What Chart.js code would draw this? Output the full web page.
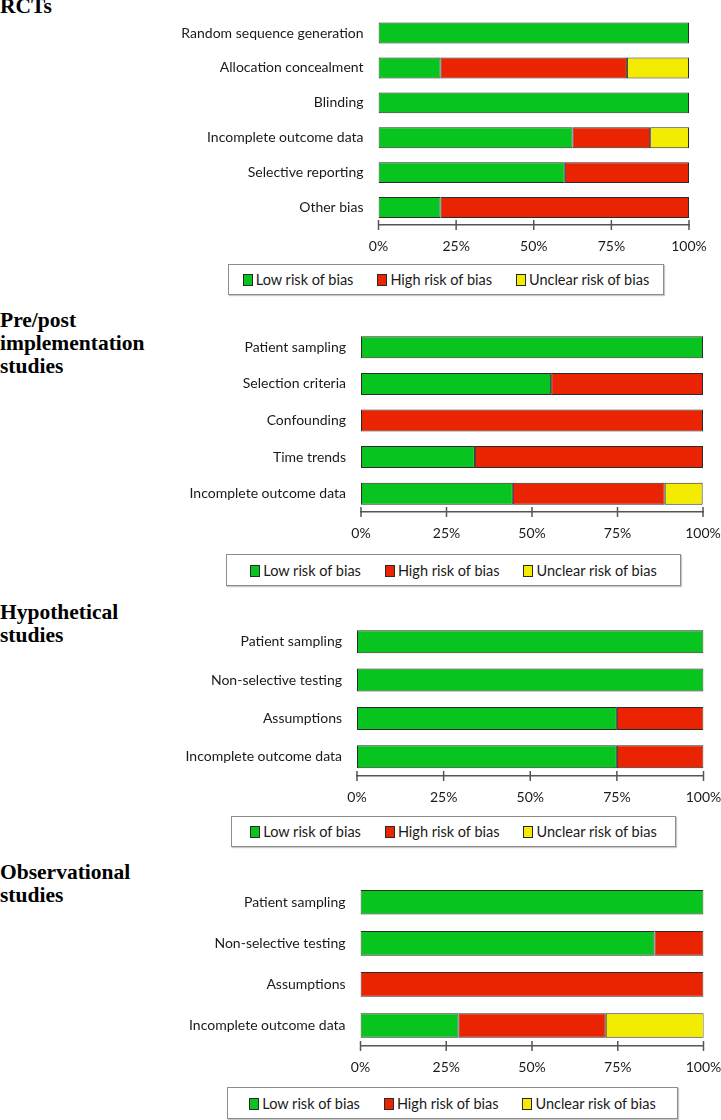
<!DOCTYPE html>
<html>
<head>
<meta charset="utf-8">
<script src="https://cdn.jsdelivr.net/npm/chart.js@4"></script>
<style>
  body { margin: 0; background: #fff; }
  #page { position: relative; width: 721px; height: 1120px; overflow: hidden; background: #fff; }
  .title { position: absolute; left: 0; font: bold 21.5px "Liberation Serif", serif; line-height: 23px; color: #000; }
  canvas { position: absolute; left: 0; }
  .legend { position: absolute; box-sizing: border-box; border: 1px solid #8c8c8c; box-shadow: 1px 1px 1px #c8c8c8;
            display: flex; align-items: center; justify-content: center; gap: 24px;
            font: 14.5px Lato, sans-serif; color: #1a1a1a; }
  .legend .sw { display: inline-block; width: 8px; height: 10px; border: 1px solid #2b2b2b; margin-right: 3px; vertical-align: -1px; }
</style>
</head>
<body>
<div id="page"></div>
<script>
// series + colours
const seriesNames = ['Low risk of bias', 'High risk of bias', 'Unclear risk of bias'];
const seriesColors = ['#08c41e', '#ea2400', '#f4ec00'];
const tickValues = [0, 25, 50, 75, 100];

// RCTs
const rctCategories = ['Random sequence generation', 'Allocation concealment', 'Blinding',
                       'Incomplete outcome data', 'Selective reporting', 'Other bias'];
const rctLow     = [100, 20, 100, 62.5, 60, 20];
const rctHigh    = [0, 60, 0, 25, 40, 80];
const rctUnclear = [0, 20, 0, 12.5, 0, 0];

// Pre/post implementation studies
const preCategories = ['Patient sampling', 'Selection criteria', 'Confounding', 'Time trends', 'Incomplete outcome data'];
const preLow     = [100, 55.6, 0, 33.3, 44.4];
const preHigh    = [0, 44.4, 100, 66.7, 44.4];
const preUnclear = [0, 0, 0, 0, 11.1];

// Hypothetical studies
const hypCategories = ['Patient sampling', 'Non-selective testing', 'Assumptions', 'Incomplete outcome data'];
const hypLow     = [100, 100, 75, 75];
const hypHigh    = [0, 0, 25, 25];
const hypUnclear = [0, 0, 0, 0];

// Observational studies
const obsCategories = ['Patient sampling', 'Non-selective testing', 'Assumptions', 'Incomplete outcome data'];
const obsLow     = [100, 85.7, 0, 28.6];
const obsHigh    = [0, 14.3, 100, 42.9];
const obsUnclear = [0, 0, 0, 28.6];

const AXIS_H = 36;
const W = 721;
const labelFont = { family: 'Lato, sans-serif', size: 14 };

// layout per panel (pixels)
const panels = [
  { title: ['RCTs'], titleTop: -5, cats: rctCategories, series: [rctLow, rctHigh, rctUnclear],
    top: 0, areaTop: 15.6, areaBottom: 224.7, left: 378.5, right: 689,
    legend: { left: 228, top: 264, width: 436, height: 31 } },
  { title: ['Pre/post', 'implementation', 'studies'], titleTop: 309, cats: preCategories, series: [preLow, preHigh, preUnclear],
    top: 300, areaTop: 329, areaBottom: 512, left: 361, right: 703,
    legend: { left: 226, top: 554, width: 455, height: 32 } },
  { title: ['Hypothetical', 'studies'], titleTop: 601, cats: hypCategories, series: [hypLow, hypHigh, hypUnclear],
    top: 600, areaTop: 622.5, areaBottom: 775.8, left: 357, right: 703.5,
    legend: { left: 231, top: 816, width: 445, height: 31 } },
  { title: ['Observational', 'studies'], titleTop: 861, cats: obsCategories, series: [obsLow, obsHigh, obsUnclear],
    top: 860, areaTop: 881.7, areaBottom: 1046.3, left: 360.5, right: 703.5,
    legend: { left: 227, top: 1087, width: 451, height: 32 } }
];

// tick marks crossing the axis line
const crossTicks = {
  id: 'crossTicks',
  afterDraw(chart) {
    const s = chart.scales.x;
    const ctx = chart.ctx;
    ctx.save();
    ctx.strokeStyle = '#555';
    ctx.lineWidth = 1.5;
    s.ticks.forEach(t => {
      const x = s.getPixelForValue(t.value);
      ctx.beginPath();
      ctx.moveTo(x, s.top - 5);
      ctx.lineTo(x, s.top + 5);
      ctx.stroke();
    });
    ctx.restore();
  }
};

const page = document.getElementById('page');

panels.forEach(p => {
  const t = document.createElement('div');
  t.className = 'title';
  t.style.top = p.titleTop + 'px';
  t.innerHTML = p.title.join('<br>');
  page.appendChild(t);

  const canvas = document.createElement('canvas');
  const h = Math.round(p.areaBottom - p.top + AXIS_H);
  canvas.width = W;
  canvas.height = h;
  canvas.style.top = p.top + 'px';
  page.appendChild(canvas);

  new Chart(canvas, {
    type: 'bar',
    data: {
      labels: p.cats,
      datasets: p.series.map((d, i) => ({
        label: seriesNames[i],
        data: d.map(v => v || null),
        backgroundColor: seriesColors[i],
        borderColor: '#2b2b2b',
        borderWidth: 1,
        borderSkipped: false,
        barPercentage: 0.6,
        categoryPercentage: 1
      }))
    },
    options: {
      indexAxis: 'y',
      responsive: false,
      animation: false,
      layout: { padding: { top: p.areaTop - p.top, right: W - p.right, left: 0, bottom: 0 } },
      plugins: { legend: { display: false }, tooltip: { enabled: false } },
      scales: {
        x: {
          stacked: true, min: 0, max: 100,
          afterBuildTicks: s => { s.ticks = tickValues.map(v => ({ value: v })); },
          ticks: { callback: v => v + '%', padding: 13, font: labelFont, color: '#1a1a1a', maxRotation: 0 },
          grid: { display: false, drawTicks: false },
          border: { display: true, color: '#555', width: 1.5 },
          afterFit: s => { s.height = AXIS_H; s.paddingLeft = 0; s.paddingRight = 0; }
        },
        y: {
          stacked: true,
          ticks: { padding: 15, font: labelFont, color: '#1a1a1a', autoSkip: false },
          grid: { display: false, drawTicks: false },
          border: { display: false },
          afterFit: s => { s.width = p.left; s.paddingTop = 0; s.paddingBottom = 0; }
        }
      }
    },
    plugins: [crossTicks]
  });

  const lg = document.createElement('div');
  lg.className = 'legend';
  Object.assign(lg.style, {
    left: p.legend.left + 'px', top: p.legend.top + 'px',
    width: p.legend.width + 'px', height: p.legend.height + 'px'
  });
  lg.innerHTML = seriesNames.map((n, i) =>
    `<span><span class="sw" style="background:${seriesColors[i]}"></span>${n}</span>`).join('');
  page.appendChild(lg);
});
</script>
</body>
</html>
